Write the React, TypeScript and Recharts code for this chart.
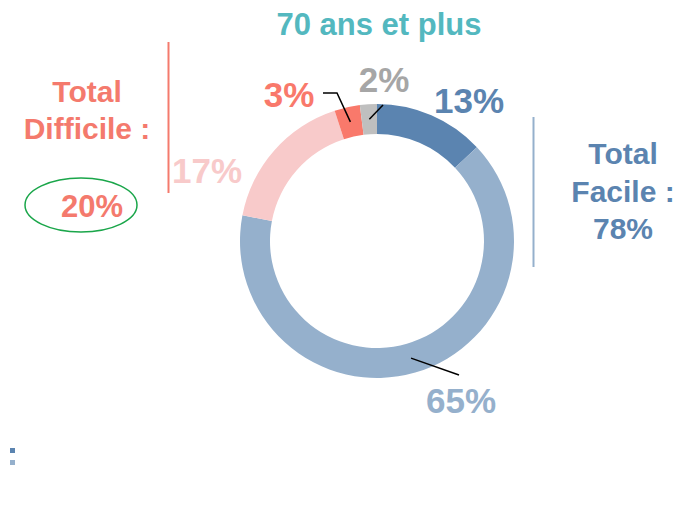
import React from "react";
import { PieChart, Pie, Cell } from "recharts";

const categories = ["Très facile", "Plutôt facile", "Plutôt difficile", "Très difficile", "NSP"];
const values = [13, 65, 17, 3, 2];
const labels = ["13%", "65%", "17%", "3%", "2%"];
const sliceColors = ["#5b84b0", "#95b0cc", "#f8caca", "#f9796b", "#bfbfbf"];
const labelColors = ["#5b84b0", "#95b0cc", "#f8caca", "#f9796b", "#a6a6a6"];
const title = "70 ans et plus";
const totalDifficile = ["Total", "Difficile :", "20%"];
const totalFacile = ["Total", "Facile :", "78%"];

// label placement (relative to pie center) and leader-line bends
const labelOffsets: [number, number][] = [
  [92, -128],
  [84, 172],
  [-170, -58],
  [-88, -134],
  [7, -149],
];
const leaderPoints: ([number, number][] | null)[] = [
  null,
  [[82, 134]],
  null,
  [[-40, -148], [-54, -148]],
  [[6, -136]],
];

const data = categories.map((c, i) => ({ name: c, value: values[i] }));

const CX = 377;
const CY = 241;
const FONT = "'Liberation Sans', Arial, sans-serif";
const RAD = Math.PI / 180;

const renderLabel = (props: any) => {
  const { index, midAngle, innerRadius, outerRadius } = props;
  const cx = props.cx ?? CX;
  const cy = props.cy ?? CY;
  const r = (innerRadius + outerRadius) / 2;
  const sx = cx + r * Math.cos(-midAngle * RAD);
  const sy = cy + r * Math.sin(-midAngle * RAD);
  const [dx, dy] = labelOffsets[index];
  const pts = leaderPoints[index];
  let path = "";
  if (pts) {
    path = `M${sx},${sy}` + pts.map(([px, py]) => ` L${cx + px},${cy + py}`).join("");
  }
  return (
    <g key={`lbl-${index}`}>
      {pts && <path d={path} stroke="#000" strokeWidth={1.5} fill="none" />}
      <text
        x={cx + dx}
        y={cy + dy}
        textAnchor="middle"
        fill={labelColors[index]}
        fontFamily={FONT}
        fontWeight="bold"
        fontSize={35}
      >
        {labels[index]}
      </text>
    </g>
  );
};

export default function App() {
  return (
    <div style={{ position: "absolute", left: 0, top: 0, width: 681, height: 506, background: "#fff" }}>
      <PieChart width={681} height={506} margin={{ top: 0, right: 0, bottom: 0, left: 0 }}>
        <Pie
          data={data}
          dataKey="value"
          nameKey="name"
          cx={CX}
          cy={CY}
          innerRadius={107}
          outerRadius={137}
          startAngle={90}
          endAngle={-270}
          stroke="none"
          isAnimationActive={false}
          label={renderLabel}
          labelLine={false}
        >
          {data.map((d, i) => (
            <Cell key={d.name} fill={sliceColors[i]} />
          ))}
        </Pie>
      </PieChart>
      <svg
        width={681}
        height={506}
        style={{ position: "absolute", left: 0, top: 0, pointerEvents: "none" }}
      >
        <text x={379} y={35} textAnchor="middle" fill="#53b8bf" fontFamily={FONT} fontWeight="bold" fontSize={31}>
          {title}
        </text>
        <text textAnchor="middle" fill="#f47a6d" fontFamily={FONT} fontWeight="bold" fontSize={30}>
          <tspan x={87} y={102}>{totalDifficile[0]}</tspan>
          <tspan x={87} y={139}>{totalDifficile[1]}</tspan>
        </text>
        <text x={92} y={217} textAnchor="middle" fill="#f47a6d" fontFamily={FONT} fontWeight="bold" fontSize={31}>
          {totalDifficile[2]}
        </text>
        <ellipse cx={81} cy={205} rx={56} ry={27} fill="none" stroke="#1aa64a" strokeWidth={1.5} />
        <line x1={168.5} y1={42} x2={168.5} y2={193} stroke="#f47a6d" strokeWidth={2} />
        <line x1={533.5} y1={117} x2={533.5} y2={267} stroke="#95b0cc" strokeWidth={2} />
        <text textAnchor="middle" fill="#5b84b0" fontFamily={FONT} fontWeight="bold" fontSize={30}>
          <tspan x={623} y={164}>{totalFacile[0]}</tspan>
          <tspan x={623} y={202}>{totalFacile[1]}</tspan>
          <tspan x={623} y={239}>{totalFacile[2]}</tspan>
        </text>
        <rect x={10} y={448} width={5} height={5} fill="#5b84b0" />
        <rect x={10} y={460} width={5} height={5} fill="#95b0cc" />
      </svg>
    </div>
  );
}
